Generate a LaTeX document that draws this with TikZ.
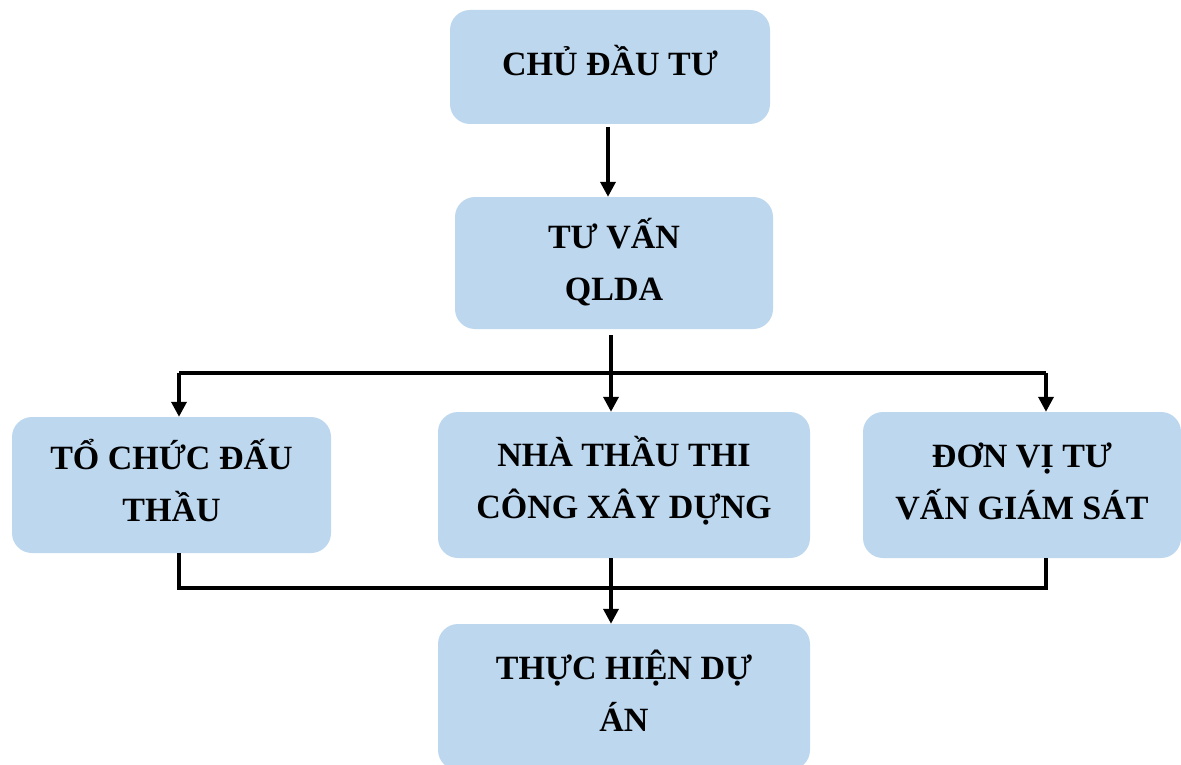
\documentclass[tikz,border=0pt]{standalone}
\usepackage{fontspec}
\setmainfont{Liberation Serif}
\usetikzlibrary{arrows.meta,calc}
\definecolor{boxblue}{HTML}{BDD7EE}
\tikzset{
  box/.style={fill=boxblue, draw=none, rounded corners=20pt, inner sep=0pt},
  lbl/.style={align=center, font=\fontsize{34}{52}\selectfont\bfseries, inner sep=0pt},
  conn/.style={line width=3.5pt, draw=black},
  arr/.style={conn, -{Triangle[width=15pt,length=15pt]}}
}
\begin{document}
\begin{tikzpicture}[x=1pt,y=-1pt]
\useasboundingbox (0,0) rectangle (1181,765);
\clip (0,0) rectangle (1181,765);
\node[box, minimum width=320pt, minimum height=114pt] (a) at (610,67) {};
\node[box, minimum width=318pt, minimum height=132pt] (b) at (614,263) {};
\node[box, minimum width=319pt, minimum height=136pt] (c) at (171.5,485) {};
\node[box, minimum width=372pt, minimum height=146pt] (d) at (624,485) {};
\node[box, minimum width=318pt, minimum height=146pt] (e) at (1022,485) {};
\node[box, minimum width=372pt, minimum height=146pt] (f) at (624,697) {};
\node[lbl] (at) at ([yshift=6pt]a.center) {CHỦ ĐẦU TƯ};
\node[lbl] (bt) at ([yshift=1pt]b.center) {TƯ VẤN\\QLDA};
\node[lbl] (ct) at ([yshift=4pt]c.center) {TỔ CHỨC ĐẤU\\THẦU};
\node[lbl] (dt) at ([yshift=4pt]d.center) {NHÀ THẦU THI\\CÔNG XÂY DỰNG};
\node[lbl] (et) at ([yshift=4pt]e.center) {ĐƠN VỊ TƯ\\VẤN GIÁM SÁT};
\node[lbl] (ft) at ([yshift=6pt]f.center) {THỰC HIỆN DỰ\\ÁN};
% connectors
\coordinate (a1) at (608,127);
\draw[arr] (a1) -- (a1 |- b.north);
\coordinate (b1) at (611,335);
\coordinate (hl) at (179,373);
\coordinate (hr) at (1046,373);
\draw[conn] (hl) -- (hr);
\draw[arr] (b1) -- (b1 |- d.north);
\draw[arr] (hl) -- (hl |- c.north);
\draw[arr] (hr) -- (hr |- e.north);
\coordinate (bl) at (179,588);
\coordinate (br) at (1046,588);
\draw[conn] (bl |- c.south) -- (bl) -- (br) -- (br |- e.south);
\coordinate (d1) at (611,558);
\draw[arr] (d1) -- (d1 |- f.north);
\end{tikzpicture}
\end{document}
